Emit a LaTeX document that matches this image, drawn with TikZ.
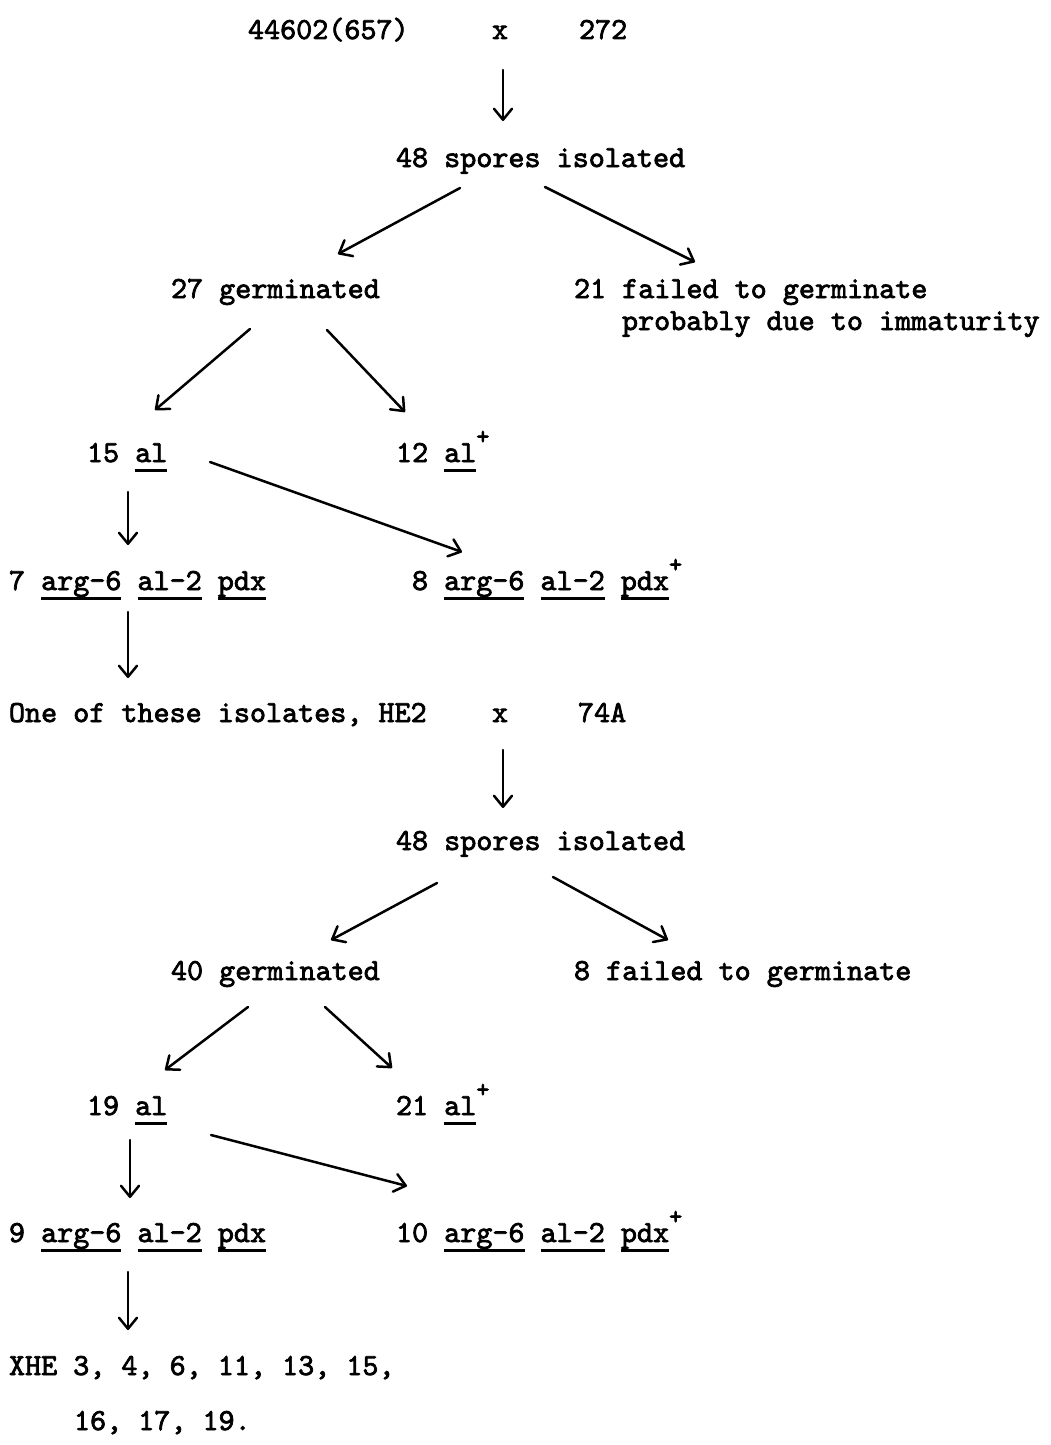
\documentclass[tikz,border=0pt]{standalone}
\usepackage{fontspec}
\newfontfamily\tw{lmmono10-regular}[Extension=.otf,FakeBold=2.4]
\usetikzlibrary{arrows.meta}
% typewriter-style underline, set below the descenders
\newcommand\ulw[1]{\setbox0=\hbox{#1}\rlap{\rule[-4.8pt]{\wd0}{1.1pt}}\box0\relax}
% raised plus sign for wild-type alleles
\newcommand\wt{\raisebox{0.58em}{\fontsize{12.5}{12}\selectfont +}}
\begin{document}
\begin{tikzpicture}[x=0.5pt,y=-0.5pt,
  lbl/.style={anchor=base west,inner sep=0pt,outer sep=0pt,font=\tw\fontsize{15.3}{18}\selectfont},
  arr/.style={line width=1.25pt,line cap=round,-{Straight Barb[length=5.5pt,width=9pt,line cap=round,line join=round]}}]
\useasboundingbox (0,0) rectangle (1050,1445);

% ---- first cross ----
\node[lbl] (p1)   at (248,39)  {44602(657)};
\node[lbl] (x1)   at (492,39)  {x};
\node[lbl] (p2)   at (579,39)  {272};
\node[lbl] (sp1)  at (396,167) {48 spores isolated};
\node[lbl] (ger1) at (171,298) {27 germinated};
\node[lbl] (fl1)  at (574,298) {21 failed to germinate};
\node[lbl] (fl1b) at (622,330) {probably due to immaturity};
\node[lbl] (al1)  at (87,462)  {15 \ulw{al}};
\node[lbl] (wt1)  at (396,462) {12 \ulw{al}\wt};
\node[lbl] (gA)   at (9,590)   {7 \ulw{arg-6} \ulw{al-2} \ulw{pdx}};
\node[lbl] (gB)   at (412,590) {8 \ulw{arg-6} \ulw{al-2} \ulw{pdx}\wt};

% ---- second cross ----
\node[lbl] (he2)  at (9,722)   {One of these isolates, HE2};
\node[lbl] (x2)   at (492,722) {x};
\node[lbl] (p3)   at (578,722) {74A};
\node[lbl] (sp2)  at (396,850) {48 spores isolated};
\node[lbl] (ger2) at (171,980) {40 germinated};
\node[lbl] (fl2)  at (574,980) {8 failed to germinate};
\node[lbl] (al2)  at (87,1115) {19 \ulw{al}};
\node[lbl] (wt2)  at (396,1115) {21 \ulw{al}\wt};
\node[lbl] (gC)   at (9,1242)  {9 \ulw{arg-6} \ulw{al-2} \ulw{pdx}};
\node[lbl] (gD)   at (396,1242) {10 \ulw{arg-6} \ulw{al-2} \ulw{pdx}\wt};
\node[lbl] (xhe)  at (9,1375)  {XHE 3, 4, 6, 11, 13, 15,};
\node[lbl] (xheb) at (74,1430) {16, 17, 19.};

% ---- connector end points ----
\coordinate (c1s) at (503,70);   \coordinate (c1e) at (503,121);
\coordinate (c2s) at (460,188);  \coordinate (c2e) at (338,254);
\coordinate (c3s) at (545,187);  \coordinate (c3e) at (695,262);
\coordinate (c4s) at (250,329);  \coordinate (c4e) at (155,410);
\coordinate (c5s) at (327,330);  \coordinate (c5e) at (405,412);
\coordinate (c6s) at (128,492);  \coordinate (c6e) at (128,545);
\coordinate (c7s) at (210,462);  \coordinate (c7e) at (462,552);
\coordinate (c8s) at (128,612);  \coordinate (c8e) at (128,678);
\coordinate (c9s) at (503,750);  \coordinate (c9e) at (503,808);
\coordinate (c10s) at (437,883); \coordinate (c10e) at (331,940);
\coordinate (c11s) at (553,877); \coordinate (c11e) at (668,940);
\coordinate (c12s) at (248,1007); \coordinate (c12e) at (165,1070);
\coordinate (c13s) at (325,1007); \coordinate (c13e) at (392,1068);
\coordinate (c14s) at (130,1140); \coordinate (c14e) at (130,1198);
\coordinate (c15s) at (211,1135); \coordinate (c15e) at (407,1186);
\coordinate (c16s) at (128,1272); \coordinate (c16e) at (128,1330);

\foreach \k in {1,...,16} \draw[arr] (c\k s) -- (c\k e);
\end{tikzpicture}
\end{document}
